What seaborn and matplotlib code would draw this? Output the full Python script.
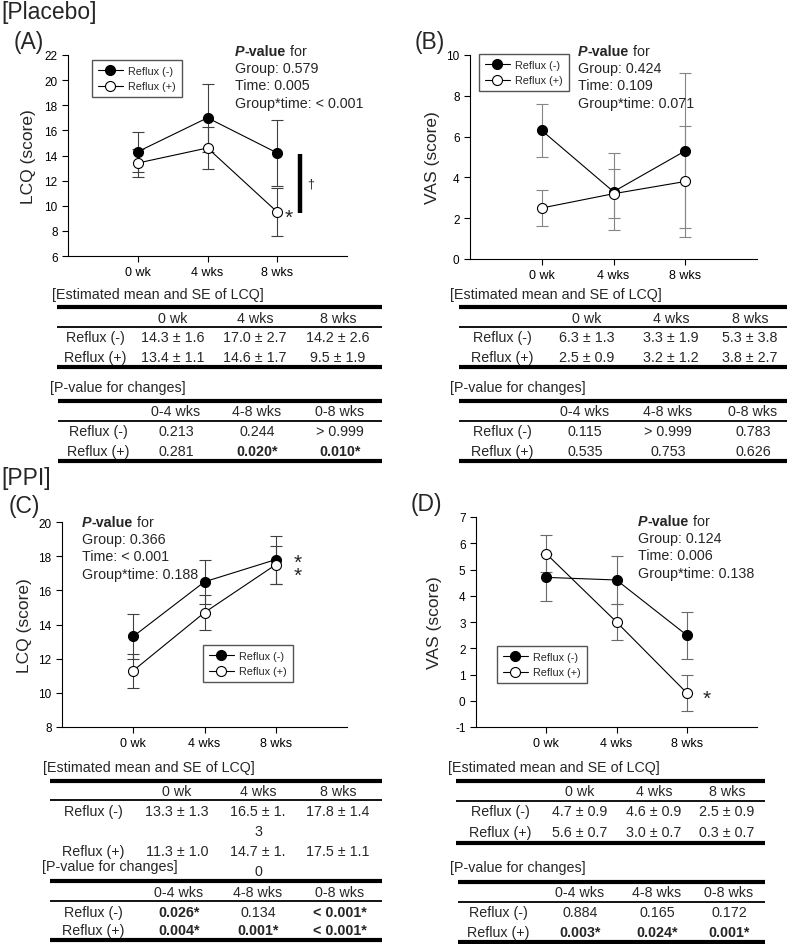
import numpy as np
import pandas as pd
import matplotlib
matplotlib.use('Agg')
import matplotlib.pyplot as plt
import seaborn as sns

sns.set_style('ticks')
plt.rcParams['font.family'] = ['Liberation Sans', 'DejaVu Sans']
plt.rcParams['axes.unicode_minus'] = False

# ---------------- data ----------------
times = [0, 1, 2]
time_labels = ['0 wk', '4 wks', '8 wks']
groups = ['Reflux (-)', 'Reflux (+)']
change_labels = ['0-4 wks', '4-8 wks', '0-8 wks']

# (A) Placebo, LCQ
a_mean_neg = [14.3, 17.0, 14.2]
a_se_neg = [1.6, 2.7, 2.6]
a_mean_pos = [13.4, 14.6, 9.5]
a_se_pos = [1.1, 1.7, 1.9]
a_pvals = ['Group: 0.579', 'Time: 0.005', 'Group*time: < 0.001']
a_p_neg = ['0.213', '0.244', '> 0.999']
a_p_pos = ['0.281', '0.020*', '0.010*']

# (B) Placebo, VAS
b_mean_neg = [6.3, 3.3, 5.3]
b_se_neg = [1.3, 1.9, 3.8]
b_mean_pos = [2.5, 3.2, 3.8]
b_se_pos = [0.9, 1.2, 2.7]
b_pvals = ['Group: 0.424', 'Time: 0.109', 'Group*time: 0.071']
b_p_neg = ['0.115', '> 0.999', '0.783']
b_p_pos = ['0.535', '0.753', '0.626']

# (C) PPI, LCQ
c_mean_neg = [13.3, 16.5, 17.8]
c_se_neg = [1.3, 1.3, 1.4]
c_mean_pos = [11.3, 14.7, 17.5]
c_se_pos = [1.0, 1.0, 1.1]
c_pvals = ['Group: 0.366', 'Time: < 0.001', 'Group*time: 0.188']
c_p_neg = ['0.026*', '0.134', '< 0.001*']
c_p_pos = ['0.004*', '0.001*', '< 0.001*']

# (D) PPI, VAS
d_mean_neg = [4.7, 4.6, 2.5]
d_se_neg = [0.9, 0.9, 0.9]
d_mean_pos = [5.6, 3.0, 0.3]
d_se_pos = [0.7, 0.7, 0.7]
d_pvals = ['Group: 0.124', 'Time: 0.006', 'Group*time: 0.138']
d_p_neg = ['0.884', '0.165', '0.172']
d_p_pos = ['0.003*', '0.024*', '0.001*']

# ---------------- figure ----------------
W, H = 797, 945
fig = plt.figure(figsize=(W / 100, H / 100), dpi=100)


def px_axes(x0, y0, x1, y1):
    return fig.add_axes([x0 / W, 1 - y1 / H, (x1 - x0) / W, (y1 - y0) / H])


def draw_panel(ax, mn, sn, mp, sp, ylim, yticks, ylabel, ecolor, label_x, leg_xy):
    df = pd.DataFrame({
        'time': times * 2,
        'mean': mn + mp,
        'se': sn + sp,
        'group': [groups[0]] * 3 + [groups[1]] * 3,
    })
    for g in groups:
        sub = df[df['group'] == g]
        ax.errorbar(sub['time'], sub['mean'], yerr=sub['se'], fmt='none',
                    ecolor=ecolor, elinewidth=0.8, capsize=4.5, capthick=0.8,
                    zorder=2)
    for g, mfc in zip(groups, ['black', 'white']):
        sub = df[df['group'] == g]
        sns.lineplot(data=sub, x='time', y='mean', ax=ax, color='black',
                     linewidth=0.8, marker='o', markersize=7.2,
                     markerfacecolor=mfc, markeredgecolor='black',
                     markeredgewidth=0.8, label=g, errorbar=None,
                     legend=False, zorder=3)
    ax.set_facecolor('none')
    ax.set_xlim(-1, 3)
    ax.set_xticks(times)
    ax.set_xticklabels(time_labels, fontsize=9)
    ax.set_ylim(*ylim)
    ax.set_yticks(yticks)
    ax.tick_params(axis='y', labelsize=8.5)
    ax.tick_params(axis='both', direction='out', length=4, width=0.8,
                   color='black', labelcolor='black')
    ax.set_xlabel('')
    ax.set_ylabel(ylabel, fontsize=12.5, va='center')
    ax.yaxis.set_label_coords(label_x, 0.5)
    sns.despine(ax=ax)
    for s in ['left', 'bottom']:
        ax.spines[s].set_linewidth(0.8)
        ax.spines[s].set_color('black')
    leg = ax.legend(loc='upper left',
                    bbox_to_anchor=(leg_xy[0] / W, 1 - leg_xy[1] / H),
                    bbox_transform=fig.transFigure, fontsize=7.8,
                    frameon=True, fancybox=False, edgecolor='#555555',
                    framealpha=1, borderaxespad=0, borderpad=0.55,
                    handlelength=2.3, handletextpad=0.5, labelspacing=0.5)
    leg.get_frame().set_linewidth(1.0)
    return ax


axA = px_axes(68, 56, 347, 257)
draw_panel(axA, a_mean_neg, a_se_neg, a_mean_pos, a_se_pos, (6, 22),
           range(6, 23, 2), 'LCQ (score)', '#404040', -0.143, (92, 61))
axA.plot([2.32, 2.32], [9.4, 14.1], color='black', lw=3.2,
         solid_capstyle='butt', zorder=3)
axA.text(2.43, 11.75, '\u2020', fontsize=9, va='center', ha='left')
axA.text(2.11, 9.1, '*', fontsize=15, va='center', ha='left')

axB = px_axes(470, 56, 757, 260)
draw_panel(axB, b_mean_neg, b_se_neg, b_mean_pos, b_se_pos, (0, 10),
           range(0, 11, 2), 'VAS (score)', '#858585', -0.129, (479, 55))

axC = px_axes(62, 523, 347, 728)
draw_panel(axC, c_mean_neg, c_se_neg, c_mean_pos, c_se_pos, (8, 20),
           range(8, 21, 2), 'LCQ (score)', '#404040', -0.133, (203, 646))
axC.text(2.25, 17.25, '*\n*', fontsize=15, va='center', ha='left',
         linespacing=0.62)

axD = px_axes(476, 518, 757, 728)
draw_panel(axD, d_mean_neg, d_se_neg, d_mean_pos, d_se_pos, (-1, 7),
           range(-1, 8, 1), 'VAS (score)', '#6a6a6a', -0.146, (497, 647))
axD.text(2.22, 0.1, '*', fontsize=15, va='center', ha='left')

# ---------------- overlay (texts, tables) ----------------
ov = fig.add_axes([0, 0, 1, 1])
ov.set_xlim(0, W)
ov.set_ylim(H, 0)
ov.axis('off')

FS = 10.3

ov.text(1, 12, '[Placebo]', fontsize=16.5, va='center', ha='left')
ov.text(1, 478, '[PPI]', fontsize=16.5, va='center', ha='left')
for lab, (x, y) in zip(['(A)', '(B)', '(C)', '(D)'],
                       [(29, 42), (430, 42), (24, 507), (426, 505)]):
    ov.text(x, y, lab, fontsize=16.5, va='center', ha='center')


def pvalue_block(x, y, lines):
    t1 = ov.text(x, y, 'P', fontsize=FS, weight='bold', style='italic',
                 va='center', ha='left')
    t2 = ov.annotate('-value', xy=(1, 0), xycoords=t1, fontsize=FS,
                     weight='bold', va='bottom', ha='left')
    ov.annotate(' for', xy=(1, 0), xycoords=t2, fontsize=FS,
                va='bottom', ha='left')
    for i, s in enumerate(lines):
        ov.text(x, y + 17.2 * (i + 1), s, fontsize=FS, va='center', ha='left')


pvalue_block(235, 52, a_pvals)
pvalue_block(578, 52, b_pvals)
pvalue_block(82, 523, c_pvals)
pvalue_block(638, 522, d_pvals)


def rule(x0, x1, y, lw):
    ov.plot([x0, x1], [y, y], color='black', lw=lw, solid_capstyle='butt')


def cell(x, y, s):
    ov.text(x, y, s, ha='center', va='center', fontsize=FS,
            weight='bold' if s.endswith('*') else 'normal')


def est_table(title_xy, x0, x1, ys, cols, mn, sn, mp, sp, bottom=True,
              wrap_col=None, wrap_dy=20):
    ov.text(title_xy[0], title_xy[1], '[Estimated mean and SE of LCQ]',
            fontsize=FS, va='center', ha='left')
    top, thin, bot, yh, r1, r2 = ys
    rule(x0, x1, top, 3.0)
    rule(x0, x1, thin, 1.3)
    if bottom:
        rule(x0, x1, bot, 3.0)
    for c, lab in zip(cols[1:], time_labels):
        cell(c, yh, lab)
    for ry, g, m, s in [(r1, groups[0], mn, sn), (r2, groups[1], mp, sp)]:
        cell(cols[0], ry, g)
        for j, c in enumerate(cols[1:]):
            txt = f'{m[j]:.1f} \u00b1 {s[j]:.1f}'
            if wrap_col == j:
                cell(c, ry, txt[:-1])
                cell(c, ry + wrap_dy, txt[-1])
            else:
                cell(c, ry, txt)


def p_table(title_xy, x0, x1, ys, cols, pn, pp):
    ov.text(title_xy[0], title_xy[1], '[P-value for changes]',
            fontsize=FS, va='center', ha='left')
    top, thin, bot, yh, r1, r2 = ys
    rule(x0, x1, top, 3.0)
    rule(x0, x1, thin, 1.3)
    rule(x0, x1, bot, 3.0)
    for c, lab in zip(cols[1:], change_labels):
        cell(c, yh, lab)
    for ry, g, vals in [(r1, groups[0], pn), (r2, groups[1], pp)]:
        cell(cols[0], ry, g)
        for j, c in enumerate(cols[1:]):
            cell(c, ry, vals[j])


# A tables
est_table((52, 295), 57, 382, (308, 328, 368, 319, 338, 358),
          (95, 173, 255, 338), a_mean_neg, a_se_neg, a_mean_pos, a_se_pos)
p_table((50, 388), 58, 382, (402, 422, 462, 412, 432, 452),
        (98, 176, 257, 340), a_p_neg, a_p_pos)

# B tables
est_table((450, 295), 459, 787, (308, 328, 368, 319, 338, 358),
          (502, 587, 671, 750), b_mean_neg, b_se_neg, b_mean_pos, b_se_pos)
p_table((450, 388), 459, 787, (402, 422, 462, 412, 432, 452),
        (502, 585, 668, 753), b_p_neg, b_p_pos)

# C tables
est_table((43, 768), 50, 382, (782, 801, None, 792, 812, 852),
          (93, 177, 258, 338), c_mean_neg, c_se_neg, c_mean_pos, c_se_pos,
          bottom=False, wrap_col=1, wrap_dy=20)
p_table((42, 867), 50, 382, (882, 902, 941, 893, 913, 931),
        (93, 179, 258, 340), c_p_neg, c_p_pos)

# D tables
est_table((448, 768), 456, 765, (782, 802, 844, 792, 812, 833),
          (500, 580, 654, 727), d_mean_neg, d_se_neg, d_mean_pos, d_se_pos)
p_table((450, 868), 458, 765, (883, 903, 943, 893, 913, 933),
        (498, 580, 657, 729), d_p_neg, d_p_pos)

fig.savefig('out.png', dpi=100)
